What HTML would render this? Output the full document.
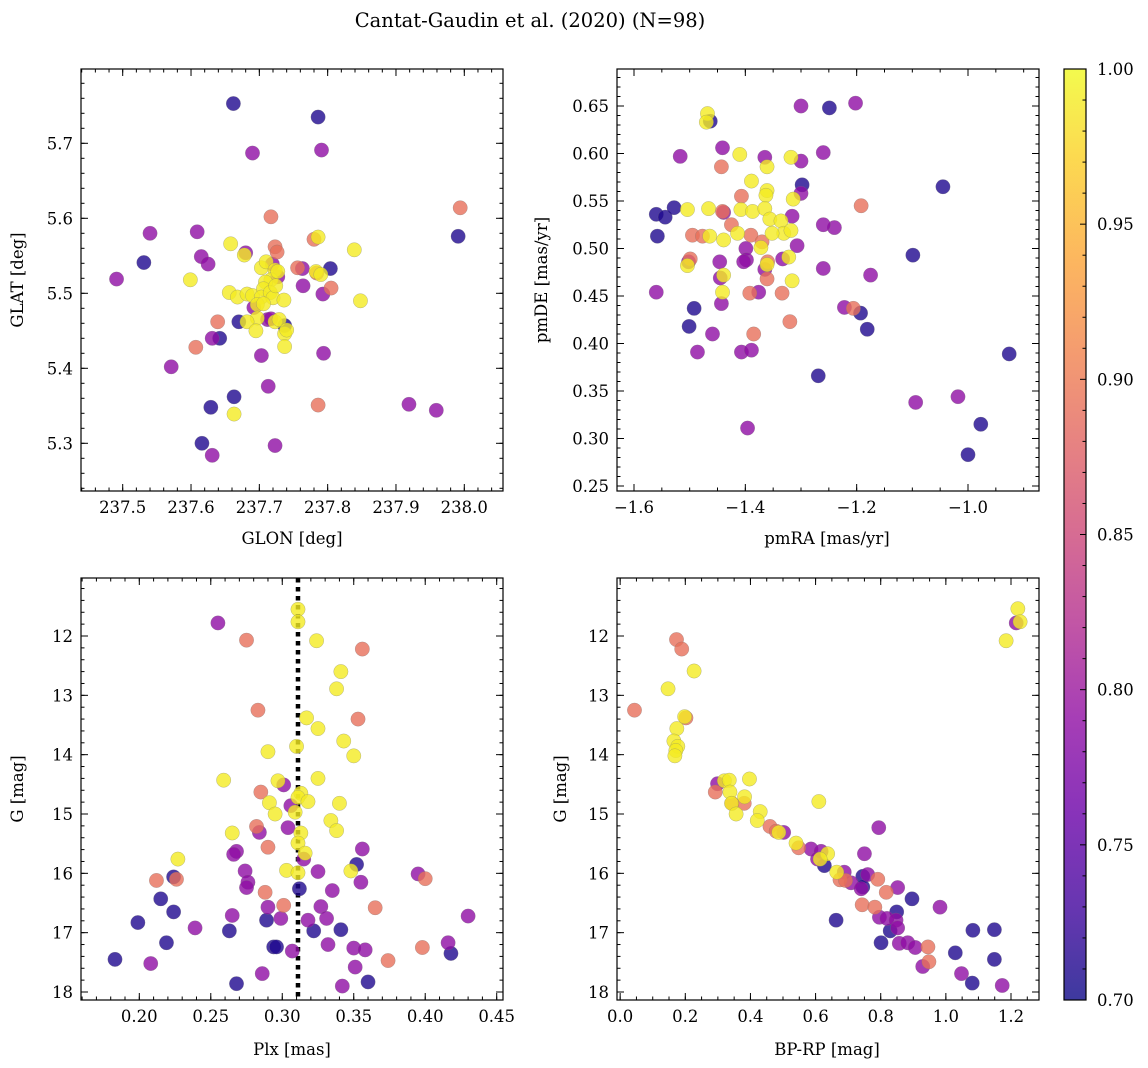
<!DOCTYPE html>
<html><head><meta charset="utf-8"><style>
html,body{margin:0;padding:0;background:#fff;}
svg{display:block;font-family:"DejaVu Serif","Liberation Serif",serif;}
</style></head><body>
<svg id="fig" width="1148" height="1068" viewBox="0 0 1148 1068" xmlns="http://www.w3.org/2000/svg">
<text x="530" y="27" text-anchor="middle" font-size="19.5">Cantat-Gaudin et al. (2020) (N=98)</text>
<text x="292" y="544" text-anchor="middle" font-size="16.5">GLON [deg]</text>
<text x="827" y="544" text-anchor="middle" font-size="16.5">pmRA [mas/yr]</text>
<text x="292" y="1055" text-anchor="middle" font-size="16.5">Plx [mas]</text>
<text x="827" y="1055" text-anchor="middle" font-size="16.5">BP-RP [mag]</text>
<text transform="translate(23,280) rotate(-90)" text-anchor="middle" font-size="16.5">GLAT [deg]</text>
<text transform="translate(547,280) rotate(-90)" text-anchor="middle" font-size="16.5">pmDE [mas/yr]</text>
<text transform="translate(23,789) rotate(-90)" text-anchor="middle" font-size="16.5">G [mag]</text>
<text transform="translate(566,789) rotate(-90)" text-anchor="middle" font-size="16.5">G [mag]</text>
<defs><linearGradient id="plasmaGrad" x1="0" y1="1" x2="0" y2="0"></linearGradient></defs>
</svg>
<script>
const N=0.71,P=0.79,S=0.89,Y=0.99;
const glonGlatPoints=[[237.662,5.753,N],[237.786,5.735,N],[237.690,5.687,P],[237.791,5.691,P],[237.717,5.602,S],[237.994,5.614,S],[237.991,5.576,N],[237.540,5.580,P],[237.609,5.582,P],[237.491,5.519,P],[237.531,5.541,N],[237.615,5.549,P],[237.625,5.539,P],[237.658,5.566,Y],[237.678,5.551,Y],[237.599,5.518,Y],[237.656,5.501,Y],[237.668,5.495,Y],[237.682,5.499,Y],[237.690,5.497,Y],[237.680,5.554,P],[237.703,5.534,Y],[237.710,5.542,Y],[237.719,5.539,P],[237.723,5.562,S],[237.723,5.531,Y],[237.717,5.518,Y],[237.709,5.515,Y],[237.706,5.506,Y],[237.703,5.495,Y],[237.716,5.501,Y],[237.720,5.494,Y],[237.724,5.510,Y],[237.727,5.522,P],[237.726,5.555,S],[237.727,5.529,Y],[237.697,5.485,Y],[237.706,5.486,Y],[237.697,5.467,Y],[237.712,5.465,P],[237.717,5.466,P],[237.723,5.462,Y],[237.729,5.465,Y],[237.737,5.457,N],[237.737,5.446,Y],[237.740,5.451,Y],[237.737,5.429,Y],[237.736,5.491,Y],[237.692,5.481,P],[237.682,5.462,Y],[237.670,5.462,N],[237.695,5.450,Y],[237.703,5.417,P],[237.713,5.376,P],[237.639,5.462,S],[237.642,5.440,N],[237.631,5.440,P],[237.607,5.428,S],[237.571,5.402,P],[237.756,5.534,S],[237.763,5.533,P],[237.780,5.572,S],[237.786,5.575,Y],[237.783,5.529,Y],[237.790,5.525,Y],[237.804,5.533,N],[237.805,5.507,S],[237.793,5.499,P],[237.784,5.527,S],[237.839,5.558,Y],[237.848,5.490,Y],[237.794,5.420,P],[237.663,5.362,N],[237.663,5.339,Y],[237.629,5.348,N],[237.616,5.300,N],[237.631,5.284,P],[237.723,5.297,P],[237.786,5.351,S],[237.919,5.352,P],[237.959,5.344,P],[237.764,5.510,P]];
const pmPoints=[[-1.468,.642,Y],[-1.470,.633,Y],[-1.463,.634,N],[-1.300,.650,P],[-1.249,.648,N],[-1.202,.653,P],[-1.517,.597,P],[-1.441,.606,P],[-1.410,.599,Y],[-1.443,.586,S],[-1.365,.596,P],[-1.318,.596,Y],[-1.361,.586,Y],[-1.300,.592,P],[-1.260,.601,P],[-1.361,.561,Y],[-1.363,.556,Y],[-1.298,.567,N],[-1.300,.558,P],[-1.407,.555,S],[-1.314,.552,Y],[-1.389,.571,Y],[-1.560,.536,N],[-1.558,.513,N],[-1.544,.533,N],[-1.528,.543,N],[-1.504,.541,Y],[-1.466,.542,Y],[-1.439,.538,P],[-1.408,.541,Y],[-1.387,.539,Y],[-1.441,.539,S],[-1.425,.525,S],[-1.365,.542,Y],[-1.356,.531,Y],[-1.336,.529,Y],[-1.331,.516,Y],[-1.352,.516,Y],[-1.318,.519,Y],[-1.316,.534,P],[-1.240,.522,P],[-1.260,.525,P],[-1.192,.545,S],[-1.045,.565,N],[-1.495,.514,S],[-1.477,.513,S],[-1.464,.513,Y],[-1.414,.516,Y],[-1.390,.514,S],[-1.439,.509,Y],[-1.372,.501,Y],[-1.399,.500,P],[-1.370,.507,S],[-1.307,.503,P],[-1.502,.486,P],[-1.504,.482,Y],[-1.499,.489,S],[-1.446,.486,P],[-1.439,.472,Y],[-1.445,.469,P],[-1.398,.488,P],[-1.403,.486,P],[-1.361,.483,Y],[-1.360,.486,S],[-1.365,.478,P],[-1.333,.489,P],[-1.322,.491,Y],[-1.361,.468,S],[-1.316,.466,Y],[-1.260,.479,P],[-1.175,.472,P],[-1.099,.493,N],[-0.926,.389,N],[-1.560,.454,P],[-1.443,.442,P],[-1.441,.454,Y],[-1.392,.453,S],[-1.376,.454,P],[-1.334,.453,S],[-1.320,.423,S],[-1.407,.391,P],[-1.389,.393,P],[-1.501,.418,N],[-1.486,.391,P],[-1.459,.410,P],[-1.385,.410,S],[-1.222,.438,P],[-1.206,.437,S],[-1.193,.432,N],[-1.181,.415,N],[-1.269,.366,N],[-1.396,.311,P],[-1.094,.338,P],[-1.018,.344,P],[-0.977,.315,N],[-1.000,.283,N],[-1.492,.437,N]];
const plxGPoints=[[.311,11.55,Y],[.311,11.76,Y],[.255,11.78,P],[.275,12.07,S],[.324,12.08,Y],[.356,12.22,S],[.341,12.60,Y],[.338,12.89,Y],[.283,13.25,S],[.317,13.38,Y],[.353,13.40,S],[.325,13.56,Y],[.343,13.77,Y],[.310,13.86,Y],[.290,13.95,Y],[.350,14.02,Y],[.259,14.43,Y],[.297,14.44,Y],[.301,14.51,P],[.325,14.40,Y],[.285,14.63,S],[.313,14.65,Y],[.311,14.72,Y],[.318,14.79,Y],[.306,14.86,P],[.291,14.81,Y],[.340,14.82,Y],[.309,14.97,Y],[.295,15.00,Y],[.334,15.11,Y],[.282,15.21,S],[.284,15.31,P],[.304,15.23,P],[.313,15.32,Y],[.338,15.28,Y],[.265,15.32,Y],[.311,15.49,Y],[.290,15.56,S],[.268,15.63,P],[.266,15.68,P],[.316,15.66,Y],[.315,15.76,P],[.356,15.59,P],[.227,15.76,Y],[.352,15.85,N],[.303,15.95,Y],[.311,15.99,Y],[.325,15.97,P],[.348,15.96,Y],[.274,15.96,P],[.355,16.15,P],[.395,16.01,P],[.400,16.09,S],[.212,16.12,S],[.224,16.06,N],[.226,16.10,S],[.276,16.15,P],[.275,16.24,P],[.288,16.32,S],[.312,16.26,N],[.335,16.29,P],[.215,16.43,N],[.224,16.65,N],[.290,16.57,P],[.301,16.54,S],[.327,16.56,P],[.365,16.58,S],[.265,16.71,P],[.289,16.79,N],[.299,16.76,P],[.318,16.79,P],[.331,16.76,P],[.430,16.72,P],[.199,16.83,N],[.239,16.92,P],[.263,16.97,N],[.322,16.97,N],[.341,16.95,N],[.219,17.17,N],[.294,17.24,N],[.296,17.24,N],[.307,17.31,P],[.332,17.20,P],[.350,17.26,P],[.358,17.29,P],[.398,17.25,S],[.416,17.17,P],[.418,17.35,N],[.374,17.47,S],[.183,17.45,N],[.208,17.52,P],[.351,17.58,P],[.286,17.69,P],[.268,17.86,N],[.342,17.90,P],[.360,17.83,N]];
const cmdPoints=[[1.221,11.54,Y],[1.216,11.78,P],[1.228,11.76,Y],[1.185,12.08,Y],[.173,12.06,S],[.189,12.22,S],[.227,12.59,Y],[.147,12.89,Y],[.044,13.25,S],[.202,13.38,S],[.198,13.36,Y],[.174,13.56,Y],[.165,13.77,Y],[.177,13.86,Y],[.171,13.93,Y],[.168,14.02,Y],[.299,14.49,P],[.292,14.63,S],[.320,14.44,Y],[.335,14.43,Y],[.397,14.41,Y],[.337,14.63,Y],[.343,14.82,S],[.342,14.82,Y],[.382,14.71,Y],[.381,14.82,S],[.356,15.00,Y],[.430,14.96,Y],[.421,15.11,Y],[.610,14.79,Y],[.460,15.21,S],[.479,15.29,S],[.502,15.31,P],[.487,15.31,Y],[.540,15.49,Y],[.548,15.57,S],[.586,15.59,P],[.617,15.63,P],[.606,15.76,P],[.627,15.87,N],[.637,15.67,Y],[.614,15.76,Y],[.794,15.23,P],[.750,15.67,P],[.665,15.98,Y],[.688,15.98,P],[.675,16.11,S],[.692,16.12,S],[.709,16.16,P],[.745,16.05,N],[.760,16.02,P],[.740,16.26,P],[.745,16.23,N],[.791,16.10,S],[.817,16.32,S],[.852,16.24,P],[.896,16.43,N],[.982,16.57,P],[.743,16.53,S],[.782,16.57,S],[.796,16.74,P],[.819,16.76,P],[.849,16.65,N],[.847,16.79,P],[.852,16.92,P],[.829,16.97,N],[.663,16.79,N],[.801,17.17,N],[.857,17.18,P],[.883,17.17,P],[.906,17.25,P],[.945,17.24,S],[.948,17.49,S],[.929,17.57,P],[1.083,16.96,N],[1.149,16.95,N],[1.029,17.34,N],[1.149,17.45,N],[1.048,17.69,P],[1.081,17.85,N],[1.173,17.89,P]];
const p1XTicks=[237.5,237.6,237.7,237.8,237.9,238.0];
const p1XLabels=["237.5","237.6","237.7","237.8","237.9","238.0"];
const p1YTicks=[5.3,5.4,5.5,5.6,5.7];
const p1YLabels=["5.3","5.4","5.5","5.6","5.7"];
const p2XTicks=[-1.6,-1.4,-1.2,-1.0];
const p2XLabels=["\u22121.6","\u22121.4","\u22121.2","\u22121.0"];
const p2YTicks=[0.25,0.30,0.35,0.40,0.45,0.50,0.55,0.60,0.65];
const p2YLabels=["0.25","0.30","0.35","0.40","0.45","0.50","0.55","0.60","0.65"];
const p3XTicks=[0.20,0.25,0.30,0.35,0.40,0.45];
const p3XLabels=["0.20","0.25","0.30","0.35","0.40","0.45"];
const gTicks=[12,13,14,15,16,17,18];
const gLabels=["12","13","14","15","16","17","18"];
const p4XTicks=[0.0,0.2,0.4,0.6,0.8,1.0,1.2];
const p4XLabels=["0.0","0.2","0.4","0.6","0.8","1.0","1.2"];
const plxCut=[0.311];
const cbTicks=[0.70,0.75,0.80,0.85,0.90,0.95,1.00];
const cbLabels=["0.70","0.75","0.80","0.85","0.90","0.95","1.00"];

const NS="http://www.w3.org/2000/svg";
const svg=document.getElementById('fig');
function mk(tag,attrs,parent){const e=document.createElementNS(NS,tag);for(const k in attrs)e.setAttribute(k,attrs[k]);(parent||svg).appendChild(e);return e;}
const plasmaStops=["#0d0887","#41049d","#6a00a8","#8f0da4","#b12a90","#cc4778","#e16462","#f2844b","#fca636","#fcce25","#f0f921"];
function hex(h){return [1,3,5].map(i=>parseInt(h.substr(i,2),16));}
function plasma(p){let t=Math.max(0,Math.min(1,(p-0.7)/0.3))*10;let i=Math.min(9,Math.floor(t));let f=t-i;const a=hex(plasmaStops[i]),b=hex(plasmaStops[i+1]);return 'rgb('+a.map((v,k)=>Math.round(v+(b[k]-v)*f)).join(',')+')';}
function lin(v0,p0,v1,p1){return v=>p0+(v-v0)*(p1-p0)/(v1-v0);}
function inv(v0,p0,v1,p1){return p=>v0+(p-p0)*(v1-v0)/(p1-p0);}

function panel(o){
  const g=mk('g',{});
  
  
  const sx=lin(...o.xc),sy=lin(...o.yc);
  const ix=inv(...o.xc),iy=inv(...o.yc);
  const L=o.L,R=o.R,T=o.T,B=o.B;
  if(o.vline){
    const ln=mk('line',{x1:sx(o.vline[0]),x2:sx(o.vline[0]),y1:T,y2:B,stroke:'#000','stroke-width':4.5,'stroke-dasharray':'4.5 4.5'},g);
    
    
  }
  const pts=o.pts.slice().sort((a,b)=>a[2]-b[2]);
  pts.forEach(d=>{
    const c=mk('circle',{cx:sx(d[0]),cy:sy(d[1]),r:7.2,fill:plasma(d[2]),'fill-opacity':0.8,stroke:'#777','stroke-opacity':0.5,'stroke-width':0.5},g);
    
    
  });
  const fr=mk('rect',{x:L,y:T,width:R-L,height:B-T,fill:'none',stroke:'#000','stroke-width':1.2},g);
  
  
  function ticks(vals,len,isX){
    vals.forEach(v=>{
      if(isX){const x=sx(v);if(x<L-0.5||x>R+0.5)return;
        mk('line',{x1:x,x2:x,y1:B,y2:B-len,stroke:'#000','stroke-width':1},g);
        mk('line',{x1:x,x2:x,y1:T,y2:T+len,stroke:'#000','stroke-width':1},g);}
      else{const y=sy(v);if(y<T-0.5||y>B+0.5)return;
        mk('line',{x1:L,x2:L+len,y1:y,y2:y,stroke:'#000','stroke-width':1},g);
        mk('line',{x1:R,x2:R-len,y1:y,y2:y,stroke:'#000','stroke-width':1},g);}
    });
  }
  function minors(a,b,step){const lo=Math.min(a,b),hi=Math.max(a,b);const out=[];for(let k=Math.ceil(lo/step-1e-6);k<=Math.floor(hi/step+1e-6);k++)out.push(k*step);return out;}
  ticks(minors(ix(L),ix(R),o.xmin),3.5,true);
  ticks(minors(iy(T),iy(B),o.ymin),3.5,false);
  ticks(o.xt,7,true);ticks(o.yt,7,false);
  o.xt.forEach((v,i)=>{const t=mk('text',{x:sx(v),y:B+22,'text-anchor':'middle','font-size':16.5},g);t.textContent=o.xl[i];
    
    });
  o.yt.forEach((v,i)=>{const t=mk('text',{x:L-8,y:sy(v)+6,'text-anchor':'end','font-size':16.5},g);t.textContent=o.yl[i];
    
    });
}
panel({name:'glon-glat-panel',L:81,R:503,T:69,B:491,xc:[237.5,122.7,238.0,464.3],yc:[5.7,143.3,5.3,443.3],pts:glonGlatPoints,xt:p1XTicks,xl:p1XLabels,yt:p1YTicks,yl:p1YLabels,xmin:0.02,ymin:0.02});
panel({name:'proper-motion-panel',L:617,R:1039,T:69,B:491,xc:[-1.6,634,-1.0,968],yc:[0.65,106,0.25,486],pts:pmPoints,xt:p2XTicks,xl:p2XLabels,yt:p2YTicks,yl:p2YLabels,xmin:0.05,ymin:0.01});
panel({name:'parallax-panel',L:81,R:503,T:578,B:1000,xc:[0.20,139.3,0.45,496.7],yc:[12,636,18,992],pts:plxGPoints,xt:p3XTicks,xl:p3XLabels,yt:gTicks,yl:gLabels,xmin:0.01,ymin:0.2,vline:plxCut});
panel({name:'cmd-panel',L:617,R:1039,T:578,B:1000,xc:[0.2,685.3,1.2,1011],yc:[12,636,18,992],pts:cmdPoints,xt:p4XTicks,xl:p4XLabels,yt:gTicks,yl:gLabels,xmin:0.05,ymin:0.2});

const grad=document.getElementById('plasmaGrad');
plasmaStops.forEach((c,i)=>mk('stop',{offset:(i/10),'stop-color':c},grad));
const cb=mk('g',{});


const cbT=69,cbB=1000,cbL=1064,cbR=1086;
const cy=lin(0.70,cbB,1.00,cbT);
mk('rect',{x:cbL,y:cbT,width:cbR-cbL,height:cbB-cbT,fill:'url(#plasmaGrad)','fill-opacity':0.8},cb);
mk('rect',{x:cbL,y:cbT,width:cbR-cbL,height:cbB-cbT,fill:'none',stroke:'#000','stroke-width':1.2},cb);
for(let k=70;k<=100;k++){const y=cy(k/100);const maj=(k%5===0);
  mk('line',{x1:cbR,x2:cbR-(maj?6:3.5),y1:y,y2:y,stroke:'#000','stroke-width':1},cb);}
cbTicks.forEach((v,i)=>{const t=mk('text',{x:cbR+11,y:cy(v)+6,'font-size':16.5},cb);t.textContent=cbLabels[i];
  
  });
</script>
</body></html>
